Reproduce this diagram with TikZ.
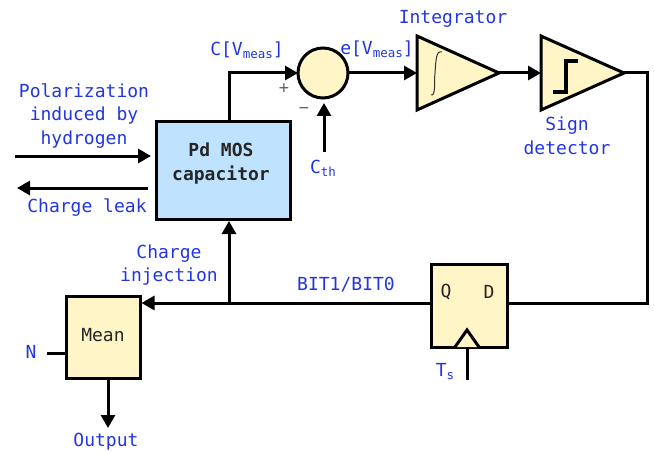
\documentclass[tikz,border=0pt]{standalone}
\usepackage{fontspec}
\setmainfont{DejaVu Sans Mono}
\usetikzlibrary{arrows.meta,calc}
\definecolor{lblue}{HTML}{2236E0}
\definecolor{boxy}{HTML}{FFF5C6}
\definecolor{boxb}{HTML}{BFE3FF}
\newcommand{\subt}[1]{\raisebox{-3pt}{\fontsize{12.5}{12.5}\selectfont #1}}
\tikzset{
  lbl/.style={text=lblue,font=\fontsize{18}{23.5}\selectfont,align=center,inner sep=0pt},
  blocktext/.style={text=black!85,font=\fontsize{18}{23.5}\selectfont,align=center,inner sep=0pt},
  wire/.style={line width=3pt,draw=black},
  arr/.style={wire,-{Triangle[length=13pt,width=14pt]}},
  block/.style={draw=black,line width=3pt,anchor=north west,inner sep=0pt,outer sep=0pt},
  tri/.style={draw=black,line width=3pt,fill=boxy,line join=miter},
}
\begin{document}
\begin{tikzpicture}[x=1pt,y=-1pt]
\useasboundingbox (0,0) rectangle (654,452);
% blocks
\node[block,fill=boxb,minimum width=134pt,minimum height=97pt] (cap) at (156,122) {};
\node[blocktext,font=\fontsize{18}{24}\selectfont\bfseries] (captext) at (221,164) {Pd MOS\\capacitor};
\node[circle,draw=black,line width=3pt,fill=boxy,minimum size=50pt,inner sep=0pt,outer sep=0pt] (sum) at (323,73) {};
\coordinate (intTop) at (417,36);
\coordinate (intBot) at (417,110);
\coordinate (intTip) at (499,73);
\coordinate (intIn) at (417,73);
\draw[tri] (intTop) -- (intTip) -- (intBot) -- cycle;
\draw[line width=1pt,draw=black!80] (431,95) .. controls (436,97) and (434,80) .. (435,73) .. controls (436,60) and (436,50) .. (442,52);
\coordinate (sgnTop) at (541,36);
\coordinate (sgnBot) at (541,110);
\coordinate (sgnTip) at (624,73);
\coordinate (sgnIn) at (541,73);
\draw[tri] (sgnTop) -- (sgnTip) -- (sgnBot) -- cycle;
\draw[line width=3.2pt] (553,92) -- (566,92) -- (566,61) -- (578,61);
\node[block,fill=boxy,minimum width=74pt,minimum height=82pt] (mean) at (66,296) {};
\node[block,fill=boxy,minimum width=76pt,minimum height=83pt] (ff) at (431,264) {};
\coordinate (clkL) at (455,347);
\coordinate (clkR) at (479,347);
\coordinate (clkA) at (467,330);
\draw[wire,fill=boxy] (clkL) -- (clkA) -- (clkR);
% coordinates
\coordinate (jn) at (229,303);
\coordinate (corner) at (229,73);
\coordinate (rt) at (647,73);
\coordinate (rb) at (647,303);
\coordinate (polS) at (15,156);
\coordinate (polE) at (151,156);
\coordinate (leakS) at (148,188);
\coordinate (leakE) at (17,188);
\coordinate (cthS) at (324,152);
\coordinate (cthE) at (324,103);
\coordinate (nS) at (47,353);
\coordinate (outE) at (108,428);
\coordinate (tsS) at (467,380);
% connectors
\draw[arr] (cap.north -| corner) -- (corner) -- (sum.west);
\draw[arr] (sum.east) -- (intIn);
\draw[arr] (intTip) -- (sgnIn);
\draw[wire] (sgnTip) -- (rt) -- (rb) -- (ff.east |- rb);
\draw[wire] (ff.west |- jn) -- (jn);
\draw[arr] (jn) -- (141.5,303);
\draw[arr] (jn) -- (229,221);
\draw[arr] (polS) -- (polE);
\draw[arr] (leakS) -- (leakE);
\draw[arr] (cthS) -- (cthE);
\draw[wire] (nS) -- (nS -| mean.west);
\draw[arr] (outE |- mean.south) -- (outE);
\draw[wire] (tsS) -- (clkA |- clkL);
% labels
\node[lbl] (polL) at (84,116) {Polarization\\induced by\\hydrogen};
\node[lbl] (leakL) at (87,208) {Charge leak};
\node[lbl] (cinj) at (169,265) {Charge\\injection};
\node[lbl] (cv) at (247,50) {C[V\subt{meas}]};
\node[lbl] (ev) at (377,49) {e[V\subt{meas}]};
\node[lbl] (intL) at (453,19) {Integrator};
\node[lbl] (sgnL) at (567,136) {Sign\\detector};
\node[lbl] (cth) at (323,168) {C\subt{th}};
\node[lbl] (bit) at (346,285) {BIT1/BIT0};
\node[blocktext] (q) at (446,292) {Q};
\node[blocktext] (d) at (489,292) {D};
\node[blocktext] (meanL) at (103,335) {Mean};
\node[lbl] (nL) at (31,352) {N};
\node[lbl] (ts) at (445,372) {T\subt{s}};
\node[lbl] (outL) at (106,442) {Output};
\node[text=black!60,font=\fontsize{17}{17}\selectfont,inner sep=0pt] (plus) at (284,89) {+};
\node[text=black!60,font=\fontsize{17}{17}\selectfont,inner sep=0pt] (minus) at (304,110) {−};
\end{tikzpicture}
\end{document}
